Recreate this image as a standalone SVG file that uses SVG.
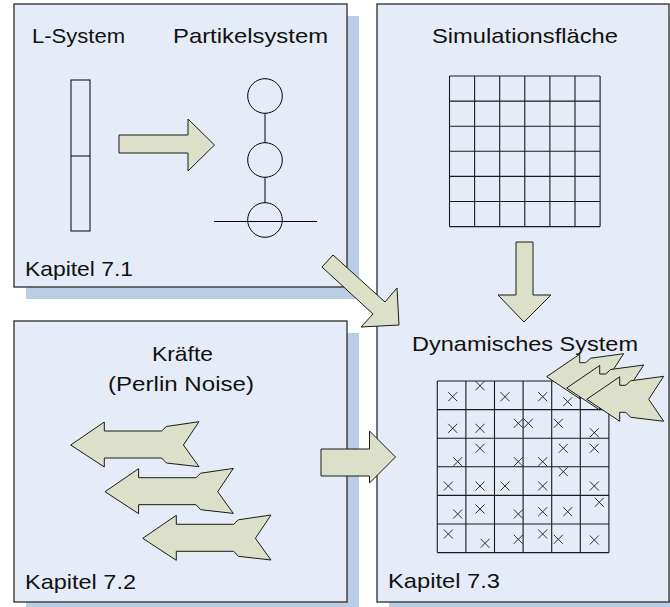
<svg xmlns="http://www.w3.org/2000/svg" xmlns:xlink="http://www.w3.org/1999/xlink" width="670" height="607" viewBox="0 0 670 607">
<defs>
<style>
.shadow{fill:#b9cde5}
.panel{fill:#e6ecf7;stroke:#3a3a3a;stroke-width:1.4}
.arrow{fill:#dde0c9;stroke:#1a1a1a;stroke-width:1;stroke-linejoin:miter}
.ln{fill:none;stroke:#000;stroke-width:1}
.grid{fill:none;stroke:#1a1a1a;stroke-width:1.1}
.xm{fill:none;stroke:#1a1a1a;stroke-width:0.9}
.t{font-family:"Liberation Sans",Arial,sans-serif;font-size:21px;fill:#111}
</style>
<path id="feather" d="M0,0 L33.6,-23 L33.6,-14 L91,-14 L95.7,-18.5 L128.3,-23.3 L112.7,0 L128.3,21.7 L95.7,18 L91,13 L33.6,13 L33.6,22 Z"/>
<path id="featherS" d="M0,0 L33,-22.5 L33,-14 L39,-14 L44,-18.5 L77,-23 L62,0 L77,22 L44,18 L39,13 L33,13 L33,22 Z"/>
<path id="x" d="M-4.5,-4.5 L4.5,4.5 M4.5,-4.5 L-4.5,4.5"/>
</defs>
<rect width="670" height="607" fill="#ffffff"/>

<g id="panel-71">
<rect class="shadow" x="26" y="16" width="333" height="283"/>
<rect class="panel" x="14" y="4" width="333" height="283"/>
<text class="t" x="32" y="43" textLength="93" lengthAdjust="spacingAndGlyphs">L-System</text>
<text class="t" x="173" y="43" textLength="155" lengthAdjust="spacingAndGlyphs">Partikelsystem</text>
<text class="t" x="25" y="276" textLength="108" lengthAdjust="spacingAndGlyphs">Kapitel 7.1</text>
<g id="lsystem">
<rect class="ln" x="71" y="80" width="19" height="151"/>
<line class="ln" x1="71" y1="156" x2="90" y2="156"/>
</g>
<g id="partikelsystem">
<circle class="ln" cx="265" cy="96" r="17.3"/>
<circle class="ln" cx="265" cy="160" r="17.3"/>
<circle class="ln" cx="265" cy="220" r="17.3"/>
<line class="ln" x1="265" y1="113.3" x2="265" y2="142.7"/>
<line class="ln" x1="265" y1="177.3" x2="265" y2="202.7"/>
<line class="ln" x1="214" y1="221.5" x2="317" y2="221.5"/>
</g>
</g>

<g id="panel-73">
<rect class="shadow" x="389" y="16" width="292" height="598"/>
<rect class="panel" x="377" y="4" width="292" height="598"/>
<text class="t" x="432" y="43" textLength="186" lengthAdjust="spacingAndGlyphs">Simulationsfläche</text>
<text class="t" x="412" y="351" textLength="226" lengthAdjust="spacingAndGlyphs">Dynamisches System</text>
<text class="t" x="388" y="588" textLength="112" lengthAdjust="spacingAndGlyphs">Kapitel 7.3</text>
<g id="grid-sim">
<path class="grid" d="M449.5,76 V226.6 M474.6,76 V226.6 M499.7,76 V226.6 M524.8,76 V226.6 M549.9,76 V226.6 M575,76 V226.6 M600.1,76 V226.6 M449.5,76 H600.1 M449.5,101.1 H600.1 M449.5,126.2 H600.1 M449.5,151.3 H600.1 M449.5,176.4 H600.1 M449.5,201.5 H600.1 M449.5,226.6 H600.1"/>
</g>
<g id="grid-dyn">
<path class="grid" d="M437.3,381 V552.6 M465.9,381 V552.6 M494.5,381 V552.6 M523.1,381 V552.6 M551.7,381 V552.6 M580.3,381 V552.6 M608.9,381 V552.6 M437.3,381 H608.9 M437.3,409.6 H608.9 M437.3,438.2 H608.9 M437.3,466.8 H608.9 M437.3,495.4 H608.9 M437.3,524 H608.9 M437.3,552.6 H608.9"/>
<g class="xm">
<use href="#x" x="452.7" y="396.7"/><use href="#x" x="480" y="385.7"/><use href="#x" x="505" y="396.7"/><use href="#x" x="542.7" y="396.7"/><use href="#x" x="567.7" y="401.7"/>
<use href="#x" x="452.7" y="428.3"/><use href="#x" x="480" y="428.3"/><use href="#x" x="518.3" y="423.3"/><use href="#x" x="528.3" y="423.3"/><use href="#x" x="558.3" y="423.3"/><use href="#x" x="594.3" y="432.7"/>
<use href="#x" x="480" y="448.3"/><use href="#x" x="457.7" y="461.7"/><use href="#x" x="518.3" y="461.7"/><use href="#x" x="542.7" y="461.7"/><use href="#x" x="563.3" y="448.3"/><use href="#x" x="594.3" y="448.3"/><use href="#x" x="563.3" y="471.7"/>
<use href="#x" x="448.3" y="486"/><use href="#x" x="480" y="486"/><use href="#x" x="505" y="486"/><use href="#x" x="542.7" y="486"/><use href="#x" x="594.3" y="486"/><use href="#x" x="599.3" y="502.3"/>
<use href="#x" x="457.7" y="514"/><use href="#x" x="480" y="509"/><use href="#x" x="518.3" y="514"/><use href="#x" x="542.7" y="511.7"/><use href="#x" x="567.7" y="511.7"/>
<use href="#x" x="448.3" y="534"/><use href="#x" x="485" y="543.3"/><use href="#x" x="518.3" y="539.3"/><use href="#x" x="542.7" y="534"/><use href="#x" x="558.3" y="539.3"/><use href="#x" x="594.3" y="540"/>
</g>
</g>
<g id="forces-on-grid">
<use class="arrow" href="#featherS" x="546.7" y="376.7"/>
<use class="arrow" href="#featherS" x="566.7" y="388"/>
<use class="arrow" href="#featherS" x="586.7" y="399.3"/>
</g>
</g>

<g id="panel-72">
<rect class="shadow" x="26" y="333" width="333" height="281"/>
<rect class="panel" x="14" y="321" width="333" height="281"/>
<text class="t" x="152" y="361" textLength="61" lengthAdjust="spacingAndGlyphs">Kräfte</text>
<text class="t" x="108" y="391" textLength="146" lengthAdjust="spacingAndGlyphs">(Perlin Noise)</text>
<text class="t" x="25" y="589" textLength="111" lengthAdjust="spacingAndGlyphs">Kapitel 7.2</text>
<g id="forces">
<use class="arrow" href="#feather" x="70.7" y="445"/>
<use class="arrow" href="#feather" x="105" y="491.7"/>
<use class="arrow" href="#feather" x="142.7" y="538.3"/>
</g>
</g>

<g id="connectors">
<polygon class="arrow" points="119,135 188,135 188,119 214.5,145 188,171 188,153 119,153"/>
<polygon class="arrow" points="516,242 533,242 533,295 551,295 524,322 498,295 516,295"/>
<polygon class="arrow" points="333,255 385,302 397,288 399,325 361,327 373,314 322,267"/>
<polygon class="arrow" points="321,449 369.5,449 369.5,431 395.5,457 369.5,483 369.5,476 321,476"/>
</g>
</svg>
